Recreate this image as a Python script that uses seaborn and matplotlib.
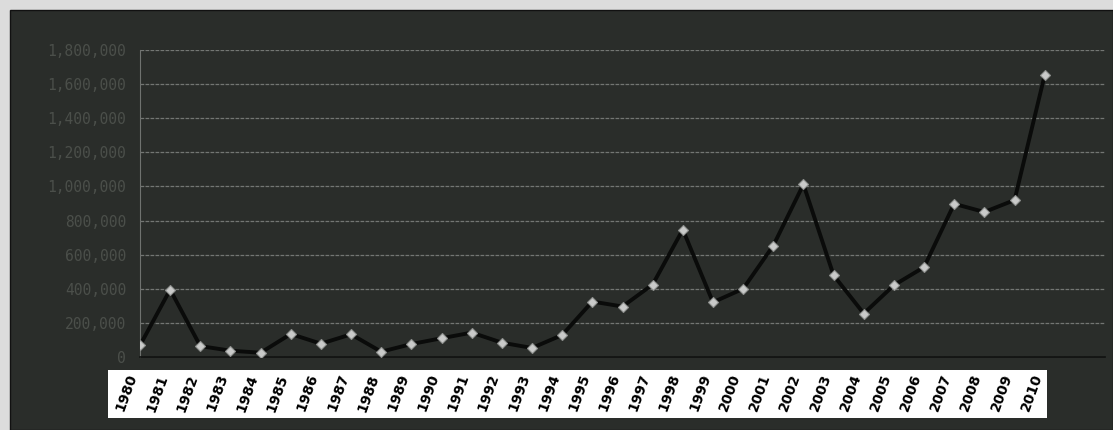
import numpy as np
import pandas as pd
import matplotlib
matplotlib.use('Agg')
import matplotlib.pyplot as plt
import seaborn as sns
from matplotlib.patches import Rectangle

# ── Data ──────────────────────────────────────────────────────────────────────
years = [str(y) for y in range(1980, 2011)]
values = [68000, 395000, 64000, 37000, 25000, 135000, 78000, 133000, 31000, 76000,
          110000, 143000, 84000, 53000, 129000, 325000, 296000, 425000, 747000, 321000,
          400000, 653000, 1012000, 479000, 255000, 421000, 527000, 898000, 850000, 920000,
          1653000]
y_ticks = list(range(0, 1800001, 200000))

df = pd.DataFrame({'pos': np.arange(len(years)), 'value': values})

# ── Colours ───────────────────────────────────────────────────────────────────
DARK  = '#2a2d2a'
PAPER = '#dcdcdc'
W, H = 1113, 430

sns.set_style('dark')
fig = plt.figure(figsize=(W / 100, H / 100), dpi=100, facecolor=PAPER)
# dark card behind the chart
fig.patches.append(Rectangle((10 / W, 0), 1 - 10 / W, 1 - 10 / H,
                             transform=fig.transFigure, facecolor=DARK,
                             edgecolor='#111111', lw=1, zorder=-5))
# white band behind the year labels
fig.patches.append(Rectangle((108 / W, 1 - 418 / H), (1047 - 108) / W, 48 / H,
                             transform=fig.transFigure, facecolor='white',
                             edgecolor='none', zorder=-4))

ax = fig.add_axes([140 / W, 1 - 357 / H, (1105 - 140) / W, (357 - 50) / H])
ax.set_facecolor(DARK)

sns.lineplot(data=df, x='pos', y='value', ax=ax, color='#0a0b0a', linewidth=2.8,
             marker='D', markersize=5, markerfacecolor='#c9cac9',
             markeredgecolor='#8e908e', markeredgewidth=0.8, zorder=3)

ax.set_xlim(0, 32)
ax.set_ylim(0, 1800000)
ax.set_yticks(y_ticks)
ax.set_yticklabels([f'{v:,}' for v in y_ticks], color='#4b4f4a', fontsize=10.5,
                   family='DejaVu Sans Mono')
ax.tick_params(axis='y', length=0, pad=10)
ax.grid(axis='y', color='#737673', linestyle=(0, (3, 1)), linewidth=0.9)
ax.grid(axis='x', visible=False)
ax.set_xlabel('')
ax.set_ylabel('')

ax.set_xticks(df['pos'])
ax.set_xticklabels(years, rotation=70, fontsize=10, fontweight='bold', color='black',
                   ha='right', va='top')
ax.tick_params(axis='x', length=0, pad=11)

for side in ['top', 'right']:
    ax.spines[side].set_visible(False)
ax.spines['left'].set_color('#6f726f')
ax.spines['left'].set_linestyle((0, (2, 1)))
ax.spines['bottom'].set_color('#101110')
ax.spines['bottom'].set_linewidth(1.2)

fig.savefig('out.png', dpi=100, facecolor=PAPER)
